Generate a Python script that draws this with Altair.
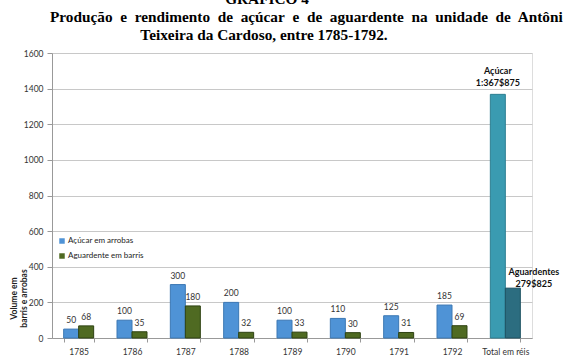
import altair as alt
import pandas as pd

# Categories and series values
categories = ["1785", "1786", "1787", "1788", "1789", "1790", "1791", "1792", "Total em réis"]
years = categories[:8]
acucar_arrobas = [50, 100, 300, 200, 100, 110, 125, 185]
aguardente_barris = [68, 35, 180, 32, 33, 30, 31, 69]
total_acucar_reis = 1367.875
total_aguardente_reis = 279.825
total_labels = [["Açúcar", "1:367$875"], ["Aguardentes", "279$825"]]
y_ticks = [0, 200, 400, 600, 800, 1000, 1200, 1400, 1600]

series_names = ["Açúcar em arrobas", "Aguardente em barris", "Açúcar (réis)", "Aguardentes (réis)"]
series_colors = ["#4F93D6", "#4F6A22", "#3A9BB1", "#2C6D80"]
series_strokes = ["#3C78B4", "#2E4212", "#2D7F92", "#1F5262"]

rows = []
for y, a, g in zip(years, acucar_arrobas, aguardente_barris):
    rows.append({"cat": y, "slot": "a", "serie": series_names[0], "valor": a, "rot": str(a)})
    rows.append({"cat": y, "slot": "b", "serie": series_names[1], "valor": g, "rot": str(g)})
rows.append({"cat": categories[8], "slot": "a", "serie": series_names[2], "valor": total_acucar_reis, "rot": ""})
rows.append({"cat": categories[8], "slot": "b", "serie": series_names[3], "valor": total_aguardente_reis, "rot": ""})
df = pd.DataFrame(rows)

tot_df = pd.DataFrame({
    "cat": [categories[8], categories[8]],
    "slot": ["a", "b"],
    "valor": [total_acucar_reis, total_aguardente_reis],
    "rot": total_labels,
})

FONT = "Lato"
x_scale = alt.Scale(domain=categories, paddingInner=0.4375, paddingOuter=0.21875)
y_scale = alt.Scale(domain=[0, 1600])
off_scale = alt.Scale(domain=["a", "b"], paddingInner=0, paddingOuter=0)

x_enc = alt.X("cat:N", scale=x_scale, sort=categories,
              axis=alt.Axis(title=None, labelAngle=0, labelFontSize=8.5, labelColor="#333333",
                            labelFont=FONT, tickBand="extent", tickSize=4, tickColor="#999999",
                            domainColor="#999999", labelPadding=5))
y_enc = alt.Y("valor:Q", scale=y_scale,
              axis=alt.Axis(values=y_ticks, format="d", labelOverlap=False,
                            title=["Volume em", "barris e arrobas"],
                            titleFont=FONT, titleFontSize=8.5, titleFontWeight="bold",
                            titleColor="#222222", titleX=-34, titleY=245, titleAlign="center",
                            labelFont=FONT, labelFontSize=8.5, labelColor="#333333",
                            tickSize=5, tickColor="#999999", domainColor="#999999",
                            gridColor="#C8C8C8", labelPadding=4))
off_enc = alt.XOffset("slot:N", scale=off_scale)

bars = alt.Chart(df).mark_bar(strokeWidth=1).encode(
    x=x_enc,
    y=y_enc,
    xOffset=off_enc,
    color=alt.Color("serie:N", scale=alt.Scale(domain=series_names, range=series_colors),
                    legend=alt.Legend(values=series_names[:2], title=None, orient="none",
                                      legendX=6, legendY=184, symbolType="square", symbolSize=30,
                                      symbolStrokeWidth=0, labelFont=FONT, labelFontSize=8,
                                      labelColor="#222222", rowPadding=7, labelOffset=2)),
    stroke=alt.Stroke("serie:N", scale=alt.Scale(domain=series_names, range=series_strokes), legend=None),
)

labels = alt.Chart(df).mark_text(baseline="bottom", dy=-4, font=FONT, fontSize=8.5, color="#333333").encode(
    x=x_enc, y=y_enc, xOffset=off_enc, text="rot:N",
)

tot_a = alt.Chart(tot_df.iloc[[0]]).mark_text(baseline="bottom", dy=-18, font=FONT, fontSize=9,
                                              fontWeight="bold", color="#111111", lineHeight=12).encode(
    x=x_enc, y=y_enc, xOffset=off_enc, text="rot",
)
tot_b = alt.Chart(tot_df.iloc[[1]]).mark_text(baseline="bottom", dy=-11, dx=21, font=FONT, fontSize=9,
                                              fontWeight="bold", color="#111111", lineHeight=12).encode(
    x=x_enc, y=y_enc, xOffset=off_enc, text="rot",
)

# Heading lines; the long line is set with widened word gaps (justified paragraph)
title_font = "Liberation Serif"
heading_1 = "GRÁFICO 4"
heading_2 = "Produção e rendimento de açúcar e de aguardente na unidade de Antônio"
heading_3 = "Teixeira da Cardoso, entre 1785-1792."
heading_2_wide = heading_2.replace(" ", "\u00a0 ")

t1 = alt.Chart(pd.DataFrame({"t": [heading_1]})).mark_text(
    font=title_font, fontSize=15.3, fontWeight="bold", align="center", baseline="alphabetic", color="#000000"
).encode(x=alt.value(215), y=alt.value(-49), text="t:N")
t2 = alt.Chart(pd.DataFrame({"t": [heading_2_wide]})).mark_text(
    font=title_font, fontSize=15.3, fontWeight="bold", align="left", baseline="alphabetic", color="#000000"
).encode(x=alt.value(-2), y=alt.value(-31), text="t:N")
t3 = alt.Chart(pd.DataFrame({"t": [heading_3]})).mark_text(
    font=title_font, fontSize=15.3, fontWeight="bold", align="center", baseline="alphabetic", color="#000000"
).encode(x=alt.value(212), y=alt.value(-13), text="t:N")

chart = alt.layer(bars, labels, tot_a, tot_b, t1, t2, t3).properties(
    width=480, height=285,
    autosize=alt.AutoSizeParams(type="none"),
    padding={"left": 52, "top": 53, "right": 31, "bottom": 19},
).configure_view(stroke=None).configure(background="white")

chart.save("out.html", embed_options={"renderer": "svg", "actions": False})
